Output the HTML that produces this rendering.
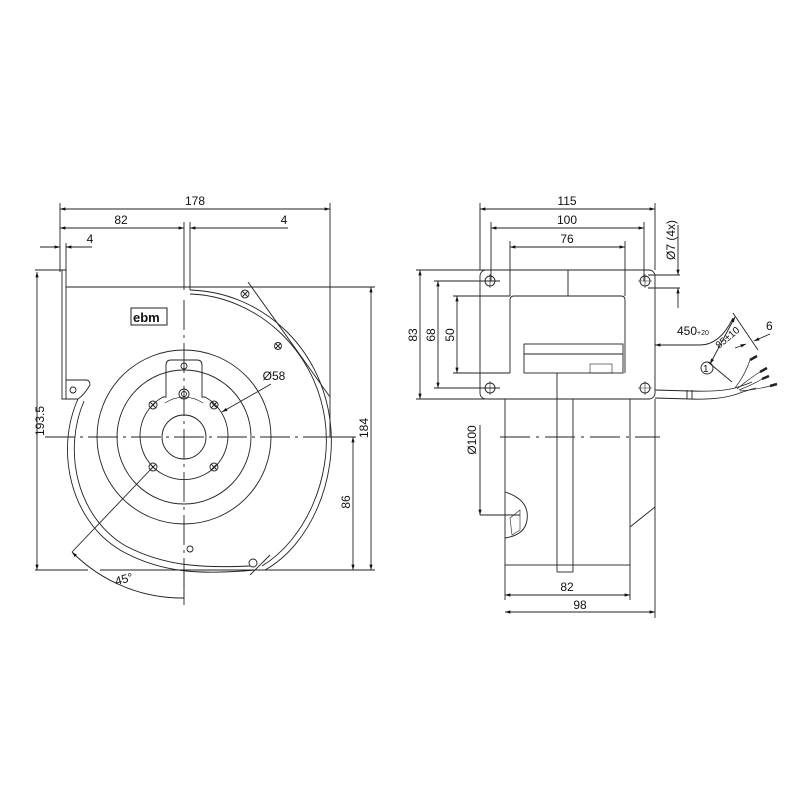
<!DOCTYPE html>
<html><head><style>
html,body{margin:0;padding:0;background:#fff;}
svg{display:block}
text{font-family:"Liberation Sans",sans-serif;font-size:12px;fill:#111}
</style></head><body>
<svg width="800" height="800" viewBox="0 0 800 800" xmlns="http://www.w3.org/2000/svg">
<defs>
<marker id="a" viewBox="0 0 10 10" refX="10" refY="5" markerWidth="9" markerHeight="6" orient="auto-start-reverse"><path d="M0,2 L10,5 L0,8 z" fill="#111"/></marker>
</defs>
<g stroke="#222" stroke-width="0.9" fill="none">
<line x1="60" y1="209" x2="330" y2="209" marker-start="url(#a)" marker-end="url(#a)"/>
<line x1="60" y1="228" x2="184" y2="228" marker-start="url(#a)" marker-end="url(#a)"/>
<line x1="190" y1="228" x2="288" y2="228" marker-start="url(#a)"/>
<line x1="40" y1="247" x2="60" y2="247" marker-end="url(#a)"/>
<line x1="66" y1="247" x2="92" y2="247" marker-start="url(#a)"/>
<line x1="60" y1="203" x2="60" y2="272"/>
<line x1="66" y1="243" x2="66" y2="272"/>
<line x1="330" y1="203" x2="330" y2="437"/>
<line x1="184" y1="222" x2="184" y2="290"/>
<line x1="190" y1="222" x2="190" y2="290"/>
<line x1="35" y1="270" x2="62" y2="270"/>
<line x1="37" y1="272" x2="37" y2="570" marker-start="url(#a)" marker-end="url(#a)"/>
<line x1="66" y1="287" x2="375" y2="287"/>
<line x1="371" y1="287" x2="371" y2="570" marker-start="url(#a)" marker-end="url(#a)"/>
<line x1="353" y1="437" x2="353" y2="570" marker-start="url(#a)" marker-end="url(#a)"/>
<line x1="330" y1="437" x2="356" y2="437"/>
<line x1="35" y1="570" x2="88" y2="570"/>
<line x1="100" y1="570" x2="375" y2="570"/>
<path d="M62,270 L66,270 L66,399 L62,399 Z"/>
<path d="M66,380 L86,380 Q90,380 90,385 Q84,395 78,399 L66,399"/>
<circle cx="73" cy="390" r="3"/>
<path d="M78,399 C55,450 70,520 120,550 C160,573 200,575 255,570"/>
<path d="M84,401 C63,450 76,515 124,545 C165,567 205,568 250,566"/>
<path d="M190,290 C260,292 320,345 330,420 C338,480 310,545 265,570"/>
<path d="M190,294 C255,296 315,348 325,420 C333,478 305,540 262,566"/>
<line x1="248" y1="282" x2="330" y2="397"/>
<line x1="250" y1="575" x2="270" y2="555"/>
<circle cx="245" cy="294" r="4"/><path d="M242,291 l6,6 M248,291 l-6,6"/>
<circle cx="278" cy="346" r="3.5"/><path d="M275,343 l6,6 M281,343 l-6,6"/>
<circle cx="253" cy="563" r="4"/>
<circle cx="190" cy="549" r="3"/>
<circle cx="184" cy="437" r="87"/>
<circle cx="184" cy="437" r="67"/>
<path d="M163,397 A44,44 0 1 0 205,397 L202,397 L202,365 Q202,360 197,360 L171,360 Q166,360 166,365 L166,397 Z"/>
<circle cx="184" cy="437" r="22"/>
<circle cx="184" cy="366" r="3"/>
<circle cx="184" cy="394" r="5"/><circle cx="184" cy="394" r="2.5"/>
<path d="M165,403 A34,34 0 0 1 203,403" stroke-width="0.6"/>
<circle cx="153" cy="405" r="4"/><circle cx="214" cy="405" r="4"/>
<circle cx="153" cy="467" r="4"/><circle cx="214" cy="467" r="4"/>
<path d="M150,402 l6,6 M156,402 l-6,6 M211,402 l6,6 M217,402 l-6,6 M150,464 l6,6 M156,464 l-6,6 M211,464 l6,6 M217,464 l-6,6"/>
<line x1="45" y1="437" x2="356" y2="437" stroke-dasharray="30,5,3,5"/>
<line x1="184" y1="300" x2="184" y2="600" stroke-dasharray="30,5,3,5"/>
<line x1="184" y1="570" x2="184" y2="605"/>
<line x1="271" y1="384" x2="222" y2="412" marker-end="url(#a)"/>
<line x1="153" y1="467" x2="72" y2="552"/>
<path d="M72,552 A155,155 0 0 0 184,598" marker-start="url(#a)"/>
<rect x="131" y="308" width="36" height="17" stroke-width="1"/>
<line x1="480" y1="209" x2="655" y2="209" marker-start="url(#a)" marker-end="url(#a)"/>
<line x1="491" y1="228" x2="644" y2="228" marker-start="url(#a)" marker-end="url(#a)"/>
<line x1="510" y1="247" x2="625" y2="247" marker-start="url(#a)" marker-end="url(#a)"/>
<line x1="480" y1="203" x2="480" y2="270"/>
<line x1="491" y1="222" x2="491" y2="281"/>
<line x1="644" y1="222" x2="644" y2="281"/>
<line x1="510" y1="241" x2="510" y2="296"/>
<line x1="625" y1="241" x2="625" y2="296"/>
<line x1="655" y1="203" x2="655" y2="270"/>
<line x1="420" y1="270" x2="420" y2="399" marker-start="url(#a)" marker-end="url(#a)"/>
<line x1="438" y1="281" x2="438" y2="388" marker-start="url(#a)" marker-end="url(#a)"/>
<line x1="457" y1="296" x2="457" y2="373" marker-start="url(#a)" marker-end="url(#a)"/>
<line x1="416" y1="270" x2="485" y2="270"/>
<line x1="434" y1="281" x2="500" y2="281"/>
<line x1="434" y1="388" x2="500" y2="388"/>
<line x1="453" y1="296" x2="510" y2="296"/>
<line x1="453" y1="373" x2="510" y2="373"/>
<line x1="416" y1="399" x2="485" y2="399"/>
<rect x="480" y="270" width="175" height="129" rx="6"/>
<circle cx="490" cy="281" r="5"/><circle cx="645" cy="281" r="5"/>
<circle cx="490" cy="388" r="5"/><circle cx="645" cy="388" r="5"/>
<path d="M483,281 h14 M490,274 v14 M638,281 h14 M645,274 v14 M483,388 h14 M490,381 v14 M638,388 h14 M645,381 v14" stroke-width="0.6"/>
<line x1="648" y1="275" x2="680" y2="275"/><line x1="648" y1="288" x2="680" y2="288"/>
<line x1="678" y1="225" x2="678" y2="275" marker-end="url(#a)"/>
<line x1="678" y1="288" x2="678" y2="308" marker-start="url(#a)"/>
<path d="M510,373 L510,300 Q510,296 514,296 L621,296 Q625,296 625,300 L625,373"/>
<line x1="568" y1="270" x2="568" y2="296"/>
<rect x="524" y="344" width="99" height="29"/>
<line x1="524" y1="354" x2="623" y2="354"/>
<rect x="590" y="364" width="22" height="9" stroke-width="0.6"/>
<rect x="505" y="399" width="125" height="166"/>
<path d="M655,399 L655,507 L630,527"/>
<line x1="557" y1="373" x2="557" y2="572"/><line x1="573" y1="399" x2="573" y2="572"/>
<line x1="557" y1="572" x2="573" y2="572"/>
<line x1="505" y1="565" x2="505" y2="600"/>
<line x1="630" y1="565" x2="630" y2="600"/>
<line x1="655" y1="507" x2="655" y2="618"/>
<line x1="500" y1="437" x2="660" y2="437" stroke-dasharray="30,6,3,6"/>
<path d="M505,492 Q530,500 527,520 Q525,535 505,538"/>
<path d="M510,518 L520,510 L520,530 L512,535 Z" stroke-width="0.6"/>
<line x1="480" y1="425" x2="480" y2="515" marker-end="url(#a)"/>
<line x1="480" y1="515" x2="520" y2="515"/>
<line x1="505" y1="595" x2="630" y2="595" marker-start="url(#a)" marker-end="url(#a)"/>
<line x1="505" y1="612" x2="655" y2="612" marker-start="url(#a)" marker-end="url(#a)"/>
<!-- cable -->
<path d="M655,390 L690,391 Q720,392 735,388 Q745,385 752,382"/>
<path d="M655,398 L690,399 Q720,400 737,394 Q748,390 756,388"/>
<line x1="687" y1="390" x2="687" y2="399"/><line x1="692" y1="390" x2="692" y2="399"/>
<path d="M735,388 Q745,375 750,360 M737,389 Q750,378 760,372 M739,390 Q752,385 762,379 M740,391 Q755,390 770,386" stroke-width="0.7"/>
<path d="M750,360 l7,-4 M760,372 l7,-4 M762,379 l7,-3 M770,386 l7,-2" stroke-width="2.5"/>
<line x1="655" y1="345" x2="700" y2="345" marker-start="url(#a)"/>
<path d="M700,345 Q720,345 733,318"/>
<line x1="732" y1="382" x2="708" y2="362"/>
<line x1="758" y1="350" x2="733" y2="313"/>
<line x1="710" y1="364" x2="735" y2="317" marker-start="url(#a)" marker-end="url(#a)"/>
<line x1="735" y1="348" x2="746" y2="344" marker-end="url(#a)"/>
<line x1="754" y1="341" x2="770" y2="334" marker-start="url(#a)"/>
<circle cx="707" cy="368" r="6"/>
</g>
<text x="195" y="205" text-anchor="middle">178</text>
<text x="121" y="224" text-anchor="middle">82</text>
<text x="284" y="224" text-anchor="middle">4</text>
<text x="90" y="243" text-anchor="middle">4</text>
<text x="133" y="322" style="font-weight:bold;font-size:13px">ebm</text>
<text x="274" y="380" text-anchor="middle">Ø58</text>
<text x="125" y="583" text-anchor="middle" transform="rotate(-15 125 583)">45°</text>
<text transform="translate(44,421) rotate(-90)" text-anchor="middle">193.5</text>
<text transform="translate(368,428) rotate(-90)" text-anchor="middle">184</text>
<text transform="translate(350,502) rotate(-90)" text-anchor="middle">86</text>
<text x="567" y="205" text-anchor="middle">115</text>
<text x="567" y="224" text-anchor="middle">100</text>
<text x="567" y="243" text-anchor="middle">76</text>
<text transform="translate(417,335) rotate(-90)" text-anchor="middle">83</text>
<text transform="translate(435,335) rotate(-90)" text-anchor="middle">68</text>
<text transform="translate(454,335) rotate(-90)" text-anchor="middle">50</text>
<text transform="translate(476,440) rotate(-90)" text-anchor="middle">Ø100</text>
<text transform="translate(675,240) rotate(-90)" text-anchor="middle">Ø7 (4x)</text>
<text x="567" y="591" text-anchor="middle">82</text>
<text x="580" y="609" text-anchor="middle">98</text>
<text x="677" y="335">450<tspan style="font-size:7px">+20</tspan></text>
<text x="719" y="349" transform="rotate(-40 719 349)" style="font-size:10px">85±10</text>
<text x="766" y="330">6</text>
<text x="703" y="372" style="font-size:10px">1</text>
</svg>
</body></html>
